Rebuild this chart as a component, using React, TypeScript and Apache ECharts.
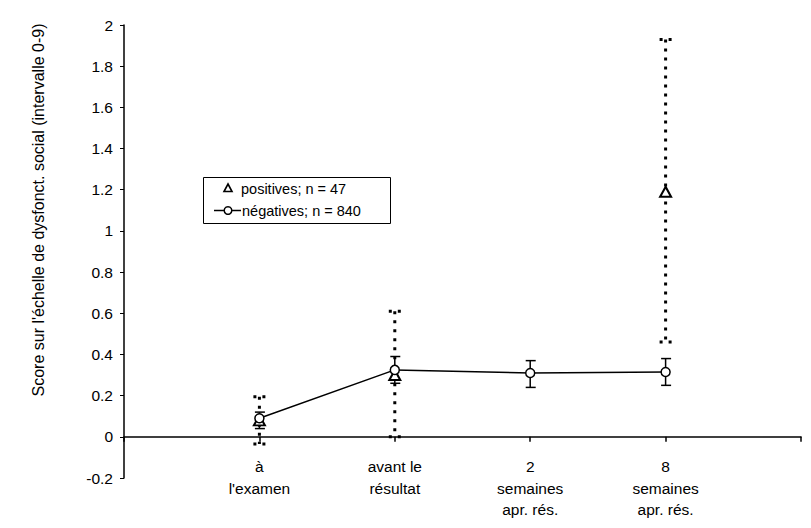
import React, { useEffect, useRef } from "react";
import * as echarts from "echarts";

// Time points (first and last slots are empty padding on the axis)
const categories = ["", "à\nl'examen", "avant le\nrésultat", "2\nsemaines\napr. rés.", "8\nsemaines\napr. rés.", ""];

// Negative results: mean score and error bar limits
const negMean = [null, 0.09, 0.325, 0.31, 0.315, null];
const negLow = [null, 0.04, 0.26, 0.24, 0.25, null];
const negHigh = [null, 0.12, 0.39, 0.37, 0.38, null];

// Positive results: mean score and error bar limits
const posMean = [null, 0.08, 0.3, null, 1.19, null];
const posLow = [null, -0.035, 0.0, null, 0.46, null];
const posHigh = [null, 0.195, 0.61, null, 1.93, null];

const yTicks = { min: -0.2, max: 2, interval: 0.2 };

const legendLabels = ["positives; n = 47", "négatives; n = 840"];

const FONT = "'Liberation Sans', Arial, sans-serif";

function errorData(low: (number | null)[], high: (number | null)[]) {
  const out: [number, number, number][] = [];
  low.forEach((l, i) => {
    const h = high[i];
    if (l != null && h != null) out.push([i, l, h]);
  });
  return out;
}

function makeErrorRender(dotted: boolean) {
  return (params: any, api: any) => {
    const i = api.value(0);
    const lo = api.coord([i, api.value(1)]);
    const hi = api.coord([i, api.value(2)]);
    const half = dotted ? 6 : 4.5;
    const style = dotted
      ? { stroke: "#000", lineWidth: 3, lineDash: [3, 6], lineCap: "butt" }
      : { stroke: "#000", lineWidth: 1.5 };
    return {
      type: "group",
      children: [
        { type: "line", shape: { x1: hi[0], y1: hi[1], x2: lo[0], y2: lo[1] }, style },
        { type: "line", shape: { x1: hi[0] - half, y1: hi[1], x2: hi[0] + half + 1, y2: hi[1] }, style },
        { type: "line", shape: { x1: lo[0] - half, y1: lo[1], x2: lo[0] + half + 1, y2: lo[1] }, style },
      ],
    };
  };
}

export default function App() {
  const ref = useRef<HTMLDivElement>(null);

  useEffect(() => {
    if (!ref.current) return;
    const chart = echarts.init(ref.current, undefined, { renderer: "svg" });
    chart.setOption({
      animation: false,
      backgroundColor: "#fff",
      textStyle: { fontFamily: FONT, color: "#000" },
      grid: { left: 124, right: 10, top: 25, bottom: 50, containLabel: false, outerBoundsMode: "none" },
      legend: { show: false },
      xAxis: {
        type: "category",
        data: categories,
        boundaryGap: false,
        axisLine: { onZero: true, lineStyle: { color: "#000", width: 1.5 } },
        axisTick: { inside: false, length: 5, lineStyle: { color: "#000", width: 1.5 } },
        axisLabel: {
          interval: 0,
          margin: -22,
          fontSize: 15.5,
          lineHeight: 21.5,
          color: "#000",
          fontFamily: FONT,
        },
        splitLine: { show: false },
      },
      yAxis: {
        type: "value",
        min: yTicks.min,
        max: yTicks.max,
        interval: yTicks.interval,
        axisLine: { show: true, onZero: false, lineStyle: { color: "#000", width: 1.5 } },
        axisTick: { show: true, length: 4, lineStyle: { color: "#000", width: 1 } },
        axisLabel: { margin: 11, fontSize: 15.5, color: "#000", fontFamily: FONT },
        splitLine: { show: false },
      },
      graphic: [
        {
          type: "text",
          x: 38,
          y: 210,
          rotation: Math.PI / 2,
          style: {
            text: "Score sur l'échelle de dysfonct. social (intervalle 0-9)",
            fontSize: 16,
            fontFamily: FONT,
            fill: "#000",
            align: "center",
            verticalAlign: "middle",
          },
        },
        // legend box
        {
          type: "rect",
          shape: { x: 203.5, y: 177.5, width: 187, height: 46 },
          style: { fill: "#fff", stroke: "#000", lineWidth: 1 },
          z: 10,
        },
        {
          type: "polygon",
          shape: { points: [[228, 184], [232, 191.5], [224, 191.5]] },
          style: { fill: "#fff", stroke: "#000", lineWidth: 1.6 },
          z: 11,
        },
        {
          type: "text",
          x: 241,
          y: 188.5,
          style: { text: legendLabels[0], fontSize: 14.5, fontFamily: FONT, fill: "#000", verticalAlign: "middle" },
          z: 11,
        },
        {
          type: "line",
          shape: { x1: 214, y1: 210.5, x2: 241, y2: 210.5 },
          style: { stroke: "#000", lineWidth: 1.5 },
          z: 11,
        },
        {
          type: "circle",
          shape: { cx: 228, cy: 210.5, r: 3.8 },
          style: { fill: "#fff", stroke: "#000", lineWidth: 1.5 },
          z: 12,
        },
        {
          type: "text",
          x: 242,
          y: 210.5,
          style: { text: legendLabels[1], fontSize: 14.5, fontFamily: FONT, fill: "#000", verticalAlign: "middle" },
          z: 11,
        },
      ],
      series: [
        {
          type: "custom",
          name: "posErr",
          renderItem: makeErrorRender(true),
          data: errorData(posLow, posHigh),
          z: 1,
          silent: true,
        },
        {
          type: "custom",
          name: "negErr",
          renderItem: makeErrorRender(false),
          data: errorData(negLow, negHigh),
          z: 2,
          silent: true,
        },
        {
          type: "scatter",
          name: legendLabels[0],
          data: posMean,
          symbol: "triangle",
          symbolSize: [11, 10],
          itemStyle: { color: "#fff", borderColor: "#000", borderWidth: 2, opacity: 1 },
          z: 3,
        },
        {
          type: "line",
          name: legendLabels[1],
          data: negMean,
          symbol: "circle",
          symbolSize: 9,
          showSymbol: true,
          connectNulls: false,
          lineStyle: { color: "#000", width: 1.5 },
          itemStyle: { color: "#fff", borderColor: "#000", borderWidth: 1.5 },
          z: 4,
        },
      ],
    });
    return () => chart.dispose();
  }, []);

  return <div ref={ref} style={{ width: 811, height: 528, margin: -8 }} />;
}
